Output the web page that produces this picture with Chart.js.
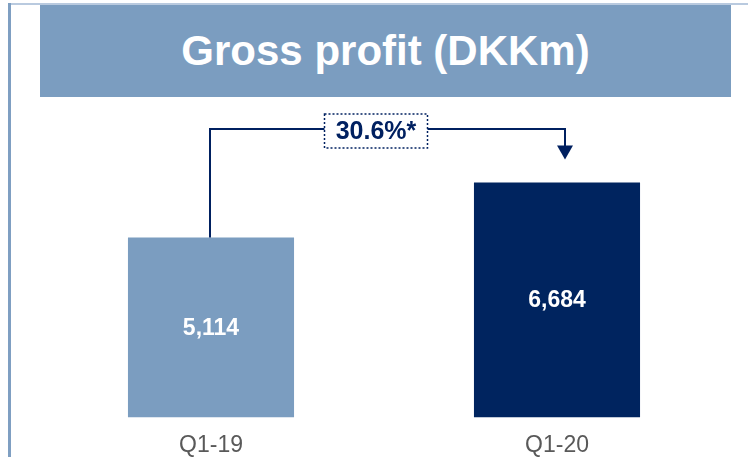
<!DOCTYPE html>
<html>
<head>
<meta charset="utf-8">
<script src="https://cdn.jsdelivr.net/npm/chart.js@4/dist/chart.umd.min.js"></script>
<style>
    html, body { margin: 0; padding: 0; background: #fff; }
    #wrap { position: relative; width: 748px; height: 457px; overflow: hidden; }
    #frameTop { position: absolute; left: 8px; top: 3px; width: 740px; height: 2px; background: #b9cadf; }
    #frameLeft { position: absolute; left: 8px; top: 3px; width: 3px; height: 454px; background: #7f9fc2; }
    #banner {
        position: absolute; left: 40px; top: 5px; width: 691px; height: 92px;
        background: #7b9dc0; color: #fff;
        font: bold 42px "Liberation Sans", Arial, sans-serif;
        display: flex; align-items: center; justify-content: center;
    }
    #chart { position: absolute; left: 0; top: 0; }
</style>
</head>
<body>
<div id="wrap">
    <div id="frameTop"></div>
    <div id="frameLeft"></div>
    <div id="banner">Gross profit (DKKm)</div>
    <canvas id="chart" width="748" height="457"></canvas>
</div>
<script>
// Daten
const categories = ['Q1-19', 'Q1-20'];
const grossProfit = [5114, 6684];
const barColors = ['#7b9dc0', '#00245f'];
const growthLabel = '30.6%*';
const bracketLevel = 8200; // Hoehe der Verbindungslinie (Wertebene)

const NAVY = '#002060';

// Werte in die Balken schreiben
const valueLabels = {
    id: 'valueLabels',
    afterDatasetsDraw(chart) {
        const ctx = chart.ctx;
        const meta = chart.getDatasetMeta(0);
        ctx.save();
        ctx.fillStyle = '#fff';
        ctx.font = 'bold 23px "Liberation Sans", Arial, sans-serif';
        ctx.textAlign = 'center';
        ctx.textBaseline = 'middle';
        meta.data.forEach((bar, i) => {
            const mid = (bar.y + bar.base) / 2;
            ctx.fillText(grossProfit[i].toLocaleString('en-US'), bar.x, mid + 1);
        });
        ctx.restore();
    }
};

// Wachstumspfeil zwischen den Balken
const growthArrow = {
    id: 'growthArrow',
    afterDatasetsDraw(chart) {
        const ctx = chart.ctx;
        const meta = chart.getDatasetMeta(0);
        const b1 = meta.data[0], b2 = meta.data[1];
        const yLine = Math.round(chart.scales.y.getPixelForValue(bracketLevel));
        const x1 = b1.x - 1;
        const x2 = b2.x + 8;
        const tipY = b2.y - 23;

        ctx.save();
        ctx.strokeStyle = NAVY;
        ctx.lineWidth = 2;
        ctx.beginPath();
        ctx.moveTo(x1, b1.y);
        ctx.lineTo(x1, yLine);
        ctx.lineTo(x2, yLine);
        ctx.lineTo(x2, tipY - 13);
        ctx.stroke();

        ctx.fillStyle = NAVY;
        ctx.beginPath();
        ctx.moveTo(x2 - 8, tipY - 14);
        ctx.lineTo(x2 + 8, tipY - 14);
        ctx.lineTo(x2, tipY);
        ctx.closePath();
        ctx.fill();

        // Label-Box
        const cx = (b1.x + b2.x) / 2 - 8;
        const bw = 103, bh = 34;
        const bx = cx - bw / 2, by = yLine - 15;
        ctx.fillStyle = '#fff';
        ctx.fillRect(bx, by, bw, bh);
        ctx.strokeStyle = NAVY;
        ctx.lineWidth = 1.5;
        ctx.setLineDash([2, 2]);
        ctx.strokeRect(bx, by, bw, bh);
        ctx.setLineDash([]);

        ctx.fillStyle = NAVY;
        ctx.font = 'bold 25px "Liberation Sans", Arial, sans-serif';
        ctx.textAlign = 'center';
        ctx.textBaseline = 'middle';
        ctx.fillText(growthLabel, cx, by + bh / 2 + 1);
        ctx.restore();
    }
};

new Chart(document.getElementById('chart'), {
    type: 'bar',
    data: {
        labels: categories,
        datasets: [{
            data: grossProfit,
            backgroundColor: barColors,
            borderWidth: 0,
            barPercentage: 0.48,
            categoryPercentage: 1.0,
        }]
    },
    options: {
        responsive: false,
        animation: false,
        layout: { padding: { left: 38, right: 18, top: 101, bottom: -16 } },
        plugins: {
            legend: { display: false },
            tooltip: { enabled: false },
            title: { display: false },
        },
        scales: {
            x: {
                grid: { display: false, drawTicks: false },
                border: { display: false },
                ticks: {
                    color: '#595959',
                    padding: 14,
                    font: { family: '"Liberation Sans", Arial, sans-serif', size: 23 },
                },
            },
            y: {
                display: false,
                min: 0,
                max: 9000,
            },
        },
    },
    plugins: [valueLabels, growthArrow],
});
</script>
</body>
</html>
